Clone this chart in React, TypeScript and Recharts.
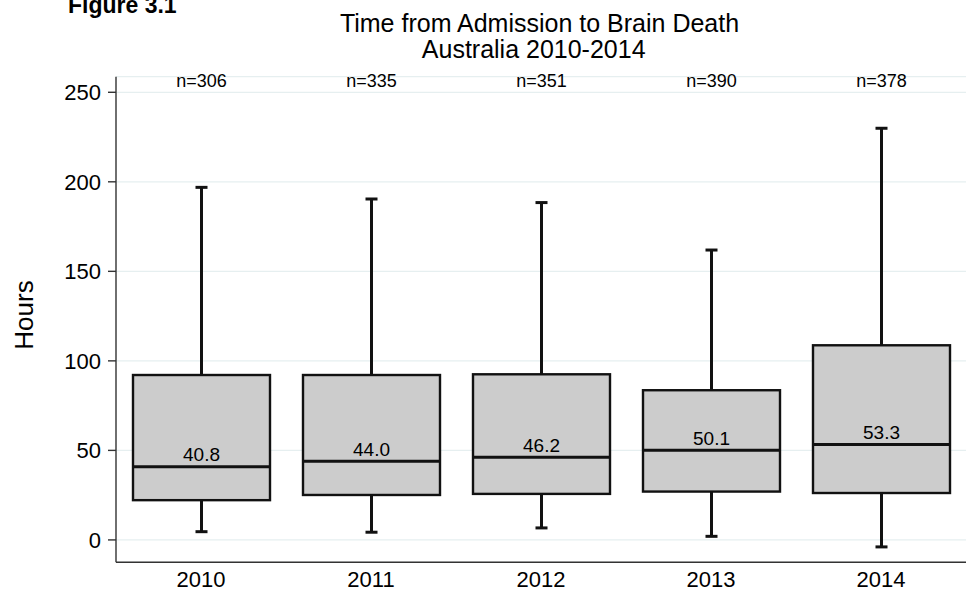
import React from 'react';
import { ComposedChart, Bar, XAxis, YAxis, CartesianGrid } from 'recharts';

// Hours from admission to brain death, per year
const years = ['2010', '2011', '2012', '2013', '2014'];
const counts = [306, 335, 351, 390, 378];
const lowerWhisker = [4.6, 4.3, 6.7, 2.0, -3.9];
const lowerQuartile = [22.2, 25.1, 25.7, 27.0, 26.2];
const medians = [40.8, 44.0, 46.2, 50.1, 53.3];
const upperQuartile = [92.1, 92.1, 92.5, 83.6, 108.7];
const upperWhisker = [196.9, 190.4, 188.4, 161.9, 229.9];
const yTicks = [0, 50, 100, 150, 200, 250];

const Y_DOMAIN: [number, number] = [-12.5, 258.7];
// value level at which the sample-size labels sit
const COUNT_LABEL_LEVEL = 253;

const FONT = '"Liberation Sans", Arial, Helvetica, sans-serif';
const INK = '#111111';

const data = years.map((year, i) => ({
  year,
  n: counts[i],
  min: lowerWhisker[i],
  q1: lowerQuartile[i],
  median: medians[i],
  q3: upperQuartile[i],
  max: upperWhisker[i],
}));

const BoxShape = (props: any) => {
  const { x, y, width, height, payload } = props;
  if (!payload) return null;
  const { min, max, q1, median, q3, n } = payload;
  const top = Math.min(y, y + height);
  const bottom = Math.max(y, y + height);
  // linear map from value to pixel using the bar's own min..max extent
  const toPx = (v: number) => top + ((max - v) / (max - min)) * (bottom - top);
  const cx = x + width / 2;
  const capHalf = 6;
  const yQ1 = toPx(q1);
  const yQ3 = toPx(q3);
  const yMed = toPx(median);
  return (
    <g>
      <line x1={cx} x2={cx} y1={top} y2={yQ3} stroke={INK} strokeWidth={3} />
      <line x1={cx} x2={cx} y1={yQ1} y2={bottom} stroke={INK} strokeWidth={3} />
      <line x1={cx - capHalf} x2={cx + capHalf} y1={top} y2={top} stroke={INK} strokeWidth={3} />
      <line x1={cx - capHalf} x2={cx + capHalf} y1={bottom} y2={bottom} stroke={INK} strokeWidth={3} />
      <rect x={x} y={yQ3} width={width} height={yQ1 - yQ3} fill="#cccccc" stroke={INK} strokeWidth={2.4} />
      <line x1={x} x2={x + width} y1={yMed} y2={yMed} stroke={INK} strokeWidth={3} />
      <text x={cx} y={yMed - 5.5} textAnchor="middle" fontSize={19} fontFamily={FONT} fill="#000">
        {median.toFixed(1)}
      </text>
      <text x={cx} y={toPx(COUNT_LABEL_LEVEL)} textAnchor="middle" fontSize={18} fontFamily={FONT} fill="#000">
        {`n=${n}`}
      </text>
    </g>
  );
};

export default function App() {
  return (
    <div style={{ position: 'absolute', left: 0, top: 0, width: 971, height: 592, background: '#fff' }}>
      <ComposedChart
        width={971}
        height={592}
        data={data}
        margin={{ top: 76.7, right: 5, bottom: 0, left: 0 }}
      >
        <CartesianGrid horizontal vertical={false} stroke="#e6eff0" strokeWidth={1.2} />
        <XAxis
          dataKey="year"
          height={29.7}
          tickLine={false}
          axisLine={{ stroke: '#333', strokeWidth: 1.4 }}
          tickMargin={3}
          tick={{ fontSize: 22, fill: '#000', fontFamily: FONT }}
        />
        <YAxis
          type="number"
          width={116}
          domain={Y_DOMAIN}
          ticks={yTicks}
          axisLine={{ stroke: '#333', strokeWidth: 1.4 }}
          tickLine={{ stroke: '#333', strokeWidth: 1.4 }}
          tickSize={8}
          tickMargin={7}
          tick={{ fontSize: 22, fill: '#000', fontFamily: FONT }}
        />
        <Bar
          dataKey={(d: any) => [d.min, d.max]}
          barSize={137}
          shape={BoxShape}
          isAnimationActive={false}
        />
      </ComposedChart>
      <svg
        width={971}
        height={592}
        style={{ position: 'absolute', left: 0, top: 0, pointerEvents: 'none' }}
      >
        <text x={68} y={13.3} fontSize={23} fontWeight="bold" fontFamily={FONT} fill="#000">
          Figure 3.1
        </text>
        <text x={539.5} y={31.7} textAnchor="middle" fontSize={25} fontFamily={FONT} fill="#000">
          Time from Admission to Brain Death
        </text>
        <text x={533.7} y={58.3} textAnchor="middle" fontSize={25} fontFamily={FONT} fill="#000">
          Australia 2010-2014
        </text>
        <text
          transform="translate(33,315) rotate(-90)"
          textAnchor="middle"
          fontSize={26}
          fontFamily={FONT}
          fill="#000"
        >
          Hours
        </text>
      </svg>
    </div>
  );
}
